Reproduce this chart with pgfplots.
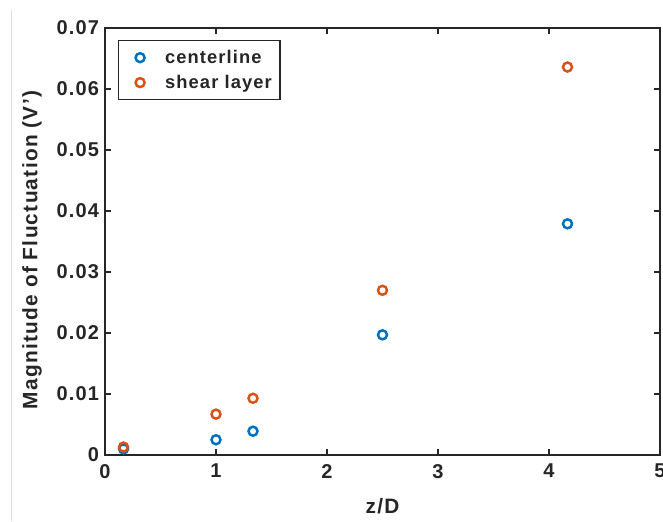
\documentclass[border=0pt]{standalone}
\usepackage{pgfplots}
\pgfplotsset{compat=1.18}
\usepackage{fontspec}
\setmainfont{Liberation Sans}[LetterSpace=6]
\definecolor{mblue}{rgb}{0,0.447,0.741}
\definecolor{morange}{rgb}{0.85,0.325,0.098}
\definecolor{axgray}{gray}{0.15}
\begin{document}
\begin{tikzpicture}
\begin{axis}[
  width=333pt, height=256.2pt, scale only axis,
  xmin=0, xmax=5, ymin=0, ymax=0.07,
  xtick={0,1,2,3,4,5},
  ytick={0,0.01,0.02,0.03,0.04,0.05,0.06,0.07},
  scaled y ticks=false,
  yticklabel style={/pgf/number format/fixed, /pgf/number format/precision=2},
  /pgf/number format/assume math mode=true,
  tick align=inside, tick pos=both,
  major tick length=3.5pt,
  axis line style={line width=1pt, axgray},
  every tick/.style={axgray, line width=1pt},
  ticklabel style={font=\bfseries\fontsize{12}{14}\selectfont, text=axgray},
  xticklabel style={yshift=-2pt},
  label style={font=\bfseries\fontsize{12.5}{15}\selectfont, text=axgray},
  xlabel={z/D},
  ylabel={Magnitude of Fluctuation (V')},
  xlabel style={at={(axis description cs:0.5,-0.119)}, anchor=center},
  ylabel style={at={(axis description cs:-0.1315,0.48)}, anchor=center, rotate=0},
  legend style={at={(0.023,0.972)}, anchor=north west, draw=axgray, line width=0.8pt,
    font=\bfseries\fontsize{11}{13}\selectfont, text=axgray, row sep=1.5pt,
    inner xsep=3pt, inner ysep=3.5pt},
  legend image code/.code={%
    \path[draw=none, fill=none] (0pt,0pt) -- (23pt,0pt);
    \draw[#1, only marks, line width=1.5pt, mark size=2.7pt] plot coordinates {(10pt,0pt)};},
  legend cell align=left,
]
\addplot[only marks, mark=o, mark size=2.7pt, line width=1.5pt, color=mblue]
  coordinates {(0.1667,0.0010) (1,0.0025) (1.3333,0.0039) (2.5,0.0197) (4.1667,0.0379)};
\addlegendentry{centerline}
\addplot[only marks, mark=o, mark size=2.7pt, line width=1.5pt, color=morange]
  coordinates {(0.1667,0.0013) (1,0.0067) (1.3333,0.0093) (2.5,0.0270) (4.1667,0.0636)};
\addlegendentry{shear layer}
\end{axis}
\draw[gray!25, line width=0.6pt] (-55.8pt,-39.6pt) -- (-55.8pt,267pt);
\pgfresetboundingbox
\useasboundingbox (-63pt,-39.6pt) rectangle (334.8pt,273pt);
\end{tikzpicture}
\end{document}
